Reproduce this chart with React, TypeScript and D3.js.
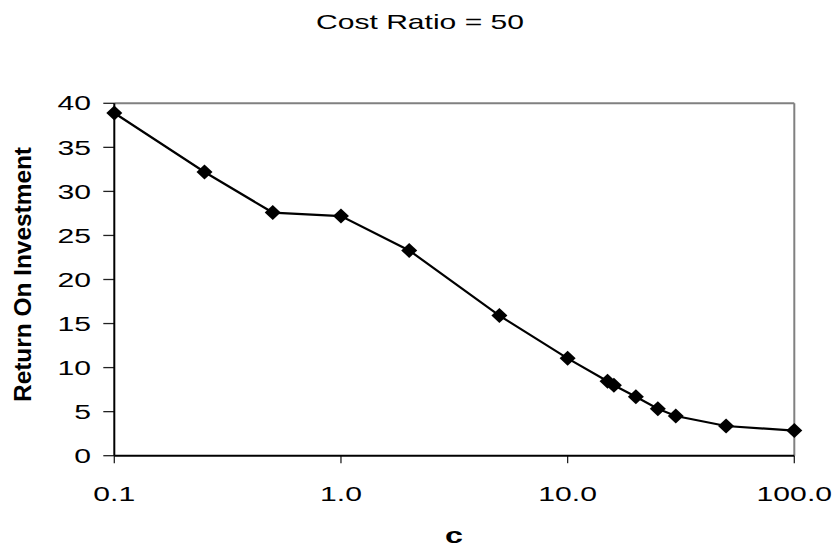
import React from "react";
import * as d3 from "d3";

const xValues = [0.1, 0.25, 0.5, 1, 2, 5, 10, 15, 16, 20, 25, 30, 50, 100];
const roiValues = [38.9, 32.2, 27.6, 27.2, 23.3, 15.9, 11.05, 8.45, 8.0, 6.7, 5.33, 4.5, 3.37, 2.85];
const xTicks = [0.1, 1, 10, 100];
const xTickLabels = ["0.1", "1.0", "10.0", "100.0"];
const yTicks = [0, 5, 10, 15, 20, 25, 30, 35, 40];
const titleText = "Cost Ratio = 50";
const xTitle = "c";
const yTitle = "Return On Investment";

const W = 840;
const H = 552;
const left = 114.3;
const right = 794.3;
const top = 103.3;
const bottom = 455.7;
const FONT = "'Liberation Sans', Arial, sans-serif";
const SX = 1.47;

export default function App() {
  const x = d3.scaleLog().domain([0.1, 100]).range([left, right]);
  const y = d3.scaleLinear().domain([0, 40]).range([bottom, top]);
  const data = xValues.map((v, i) => ({ x: v, y: roiValues[i] }));
  const line = d3
    .line<{ x: number; y: number }>()
    .x((d) => x(d.x))
    .y((d) => y(d.y));
  const diamond = "M0,-7.5L8,0L0,7.5L-8,0Z";

  return (
    <svg
      width={W}
      height={H}
      style={{ position: "absolute", left: 0, top: 0, background: "#fff" }}
      fontFamily={FONT}
    >
      <rect x={0} y={0} width={W} height={H} fill="#fff" />
      {/* title */}
      <text
        x={420}
        y={28.5}
        textAnchor="middle"
        fontSize={21}
        textLength={208}
        lengthAdjust="spacingAndGlyphs"
        fill="#000"
      >
        {titleText}
      </text>
      {/* plot border */}
      <line x1={left} x2={right} y1={top} y2={top} stroke="#808080" strokeWidth={2} />
      <line x1={right} x2={right} y1={top} y2={bottom} stroke="#808080" strokeWidth={2} />
      {/* y ticks */}
      {yTicks.map((t) => (
        <g key={"y" + t}>
          <line x1={left - 11} x2={left} y1={y(t)} y2={y(t)} stroke="#222" strokeWidth={1.3} />
          <text
            transform={`translate(91,${y(t)}) scale(${SX},1)`}
            textAnchor="end"
            dominantBaseline="central"
            fontSize={20.5}
            fill="#000"
          >
            {t}
          </text>
        </g>
      ))}
      {/* x ticks */}
      {xTicks.map((t, i) => (
        <g key={"x" + t}>
          <line x1={x(t)} x2={x(t)} y1={bottom} y2={bottom + 7.5} stroke="#222" strokeWidth={1.3} />
          <text
            transform={`translate(${x(t)},500.5) scale(${SX},1)`}
            textAnchor="middle"
            fontSize={20.5}
            fill="#000"
          >
            {xTickLabels[i]}
          </text>
        </g>
      ))}
      {/* axes */}
      <line x1={left} x2={left} y1={top} y2={bottom} stroke="#000" strokeWidth={2} />
      <line x1={left} x2={right} y1={bottom} y2={bottom} stroke="#000" strokeWidth={2} />
      {/* axis titles */}
      <text
        transform={`translate(454,543) scale(${SX},1)`}
        textAnchor="middle"
        fontSize={22}
        fontWeight="bold"
        fill="#000"
      >
        {xTitle}
      </text>
      <text
        transform={`translate(31,274.5) rotate(-90)`}
        textAnchor="middle"
        fontSize={24}
        fontWeight="bold"
        textLength={255}
        lengthAdjust="spacingAndGlyphs"
        fill="#000"
      >
        {yTitle}
      </text>
      {/* series */}
      <path d={line(data) || ""} fill="none" stroke="#000" strokeWidth={2.2} />
      {data.map((d, i) => (
        <path key={"m" + i} d={diamond} transform={`translate(${x(d.x)},${y(d.y)})`} fill="#000" />
      ))}
    </svg>
  );
}
